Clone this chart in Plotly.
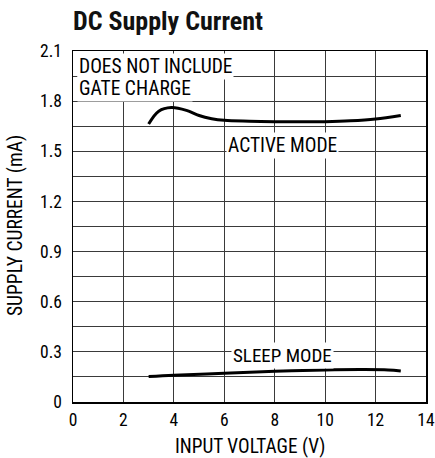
import plotly.graph_objects as go

FONT = "Liberation Sans Narrow, Roboto Condensed, Arial Narrow, Liberation Sans, sans-serif"

active_v = [3.0, 3.4, 3.9, 4.5, 5.0, 5.5, 6.0, 7.0, 8.0, 9.0, 10.0, 11.0, 12.0, 13.0]
active_i = [1.663, 1.74, 1.762, 1.745, 1.714, 1.695, 1.685, 1.680, 1.677, 1.676, 1.677, 1.682, 1.693, 1.714]

sleep_v = [3.0, 4.0, 6.0, 8.0, 10.0, 11.5, 12.5, 13.0]
sleep_i = [0.152, 0.160, 0.172, 0.184, 0.192, 0.194, 0.192, 0.186]

y_ticks = [0, 0.3, 0.6, 0.9, 1.2, 1.5, 1.8, 2.1]
y_labels = ["0", "0.3", "0.6", "0.9", "1.2", "1.5", "1.8", "2.1"]
x_ticks = [0, 2, 4, 6, 8, 10, 12, 14]

W, H = 435, 458
L, R, T, B = 73, 9, 51, 56
PW, PH = W - L - R, H - T - B


def px(page_x):
    return (page_x - L) / PW


def py(page_y):
    return (H - B - page_y) / PH


fig = go.Figure()
for xs, ys in [(active_v, active_i), (sleep_v, sleep_i)]:
    fig.add_trace(go.Scatter(x=xs, y=ys, mode="lines",
                             line=dict(color="black", width=3, shape="spline"),
                             showlegend=False, hoverinfo="skip"))

fig.update_layout(
    width=W, height=H,
    margin=dict(l=L, r=R, t=T, b=B),
    paper_bgcolor="white", plot_bgcolor="white",
    font=dict(family=FONT, color="black", size=17),
    title=dict(text="<b>DC Supply Current</b>", x=L / W, xanchor="left",
               y=1 - 21 / H, yanchor="middle",
               font=dict(family=FONT, size=26, color="#111")),
)
fig.update_xaxes(range=[0, 14], tickvals=x_ticks, showgrid=True, gridcolor="#3a3a3a", gridwidth=1,
                 showline=True, linecolor="black", linewidth=1.5, mirror=True, zeroline=False,
                 ticks="", tickfont=dict(size=17.5), automargin=False, ticklabelstandoff=1)
fig.update_yaxes(range=[0, 2.1], tickvals=y_ticks, ticktext=y_labels, showgrid=True,
                 gridcolor="#3a3a3a", gridwidth=1,
                 minor=dict(dtick=0.15, tick0=0, showgrid=True, gridcolor="#3a3a3a", gridwidth=1),
                 showline=True, linecolor="black", linewidth=1.5, mirror=True, zeroline=False,
                 ticks="", tickfont=dict(size=17.5), automargin=False, ticklabelstandoff=6)

# axis titles
fig.add_annotation(x=px(250), y=py(446), xref="paper", yref="paper",
                   text="INPUT VOLTAGE (V)", showarrow=False, font=dict(size=19.3),
                   xanchor="center", yanchor="middle")
fig.add_annotation(x=px(15), y=py(226), xref="paper", yref="paper",
                   text="SUPPLY CURRENT (mA)", showarrow=False, font=dict(size=19.5),
                   textangle=-90, xanchor="center", yanchor="middle")

# in-plot notes (white boxes hide the grid behind them)
fig.add_annotation(x=0.17, y=(402 - 67) / 167, xref="x", yref="y", xanchor="left", yanchor="middle",
                   text="DOES NOT INCLUDE", showarrow=False,
                   bgcolor="white", borderpad=1, font=dict(size=19.5))
fig.add_annotation(x=0.17, y=(402 - 89) / 167, xref="x", yref="y", xanchor="left", yanchor="middle",
                   text="GATE CHARGE", showarrow=False,
                   bgcolor="white", borderpad=1, font=dict(size=19.5))
fig.add_annotation(x=8.32, y=1.533, xref="x", yref="y", text="ACTIVE MODE", showarrow=False,
                   bgcolor="white", borderpad=1, font=dict(size=19.5))
fig.add_annotation(x=8.29, y=0.278, xref="x", yref="y", text="SLEEP MODE", showarrow=False,
                   bgcolor="white", borderpad=1, font=dict(size=19))

fig.write_html(
    "out.html",
    config={"displayModeBar": False, "staticPlot": True},
    post_script="document.body.style.margin='0';document.body.style.padding='0';"
                "document.documentElement.style.overflow='hidden';",
)
